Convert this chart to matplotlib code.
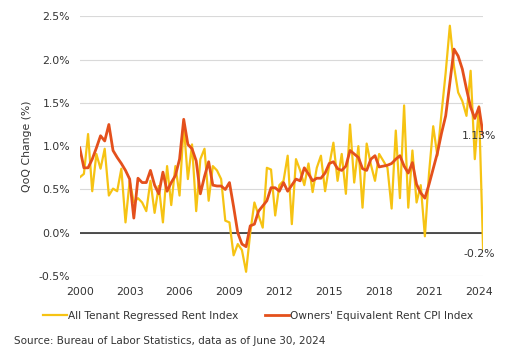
import numpy as np
import pandas as pd
import matplotlib
matplotlib.use("Agg")
import matplotlib.pyplot as plt

# ── Data (QoQ % change) ─────────────────────────────────────────────────────
quarters = pd.period_range("2000Q1", "2024Q2", freq="Q")

tenant_rent = [
    0.64, 0.68, 1.14, 0.48,   0.91, 0.74, 0.97, 0.43,   0.51, 0.48, 0.74, 0.12,
    0.60, 0.35, 0.40, 0.35,   0.25, 0.60, 0.23, 0.54,   0.12, 0.77, 0.32, 0.77,
    0.43, 1.25, 0.62, 1.02,   0.25, 0.85, 0.97, 0.37,   0.77, 0.72, 0.62, 0.14,
    0.12, -0.26, -0.13, -0.20, -0.45, 0.00, 0.35, 0.20,  0.06, 0.75, 0.73, 0.20,
    0.55, 0.60, 0.89, 0.10,   0.85, 0.72, 0.55, 0.80,   0.47, 0.75, 0.89, 0.48,
    0.78, 1.04, 0.60, 0.91,   0.45, 1.25, 0.58, 1.00,   0.29, 1.03, 0.79, 0.60,
    0.91, 0.83, 0.75, 0.28,   1.18, 0.40, 1.47, 0.29,   0.95, 0.35, 0.55, -0.04,
    0.69, 1.23, 0.89, 1.38,   1.85, 2.39, 1.92, 1.62,   1.52, 1.35, 1.87, 0.85,
    1.46, -0.20,
]

oer_cpi = [
    0.98, 0.75, 0.75, 0.85,   0.98, 1.12, 1.06, 1.25,   0.95, 0.87, 0.80, 0.72,
    0.62, 0.17, 0.63, 0.58,   0.58, 0.72, 0.55, 0.45,   0.70, 0.48, 0.58, 0.66,
    0.85, 1.31, 1.02, 0.97,   0.83, 0.45, 0.65, 0.82,   0.55, 0.54, 0.54, 0.50,
    0.58, 0.30, 0.00, -0.13,  -0.16, 0.08, 0.10, 0.25,   0.31, 0.37, 0.52, 0.52,
    0.48, 0.58, 0.48, 0.55,   0.62, 0.60, 0.75, 0.68,   0.60, 0.63, 0.63, 0.69,
    0.80, 0.82, 0.74, 0.72,   0.77, 0.95, 0.91, 0.87,   0.74, 0.72, 0.85, 0.89,
    0.76, 0.77, 0.78, 0.80,   0.85, 0.89, 0.77, 0.69,   0.81, 0.56, 0.46, 0.40,
    0.56, 0.74, 0.92, 1.15,   1.35, 1.73, 2.12, 2.04,   1.89, 1.66, 1.45, 1.32,
    1.45, 1.13,
]

year_ticks = [2000, 2003, 2006, 2009, 2012, 2015, 2018, 2021, 2024]
y_ticks = [-0.5, 0.0, 0.5, 1.0, 1.5, 2.0, 2.5]

YELLOW = "#F6C313"
ORANGE = "#E4501C"
TEXT = "#333333"

plt.rcParams["font.family"] = ["DejaVu Sans"]

# decimal year for each quarter
t = np.array([p.year + (p.quarter - 1) / 4 for p in quarters])

fig = plt.figure(figsize=(5.08, 3.6), dpi=100)
ax = fig.add_axes([0.157, 0.233, 0.794, 0.722])

ax.plot(t, tenant_rent, color=YELLOW, lw=1.6, zorder=3,
        label="All Tenant Regressed Rent Index")
ax.plot(t, oer_cpi, color=ORANGE, lw=2.0, zorder=4,
        label="Owners' Equivalent Rent CPI Index")

ax.axhline(0, color="#222222", lw=1.1, zorder=2)
ax.set_ylim(-0.5, 2.5)
ax.set_xlim(2000, 2024.25)
ax.set_yticks(y_ticks)
ax.set_yticklabels([f"{v:.1f}%" for v in y_ticks])
ax.set_xticks(year_ticks)
ax.set_xticklabels([str(y) for y in year_ticks])
ax.grid(axis="y", color="#d9d9d9", lw=0.8, zorder=0)
ax.set_axisbelow(True)
for s in ax.spines.values():
    s.set_visible(False)
ax.tick_params(length=0, labelsize=7.8, colors=TEXT, pad=7)
ax.tick_params(axis="x", pad=8)
ax.set_ylabel("QoQ Change (%)", fontsize=7.8, color=TEXT, labelpad=5)

# end-of-series labels
ax.annotate(f"{oer_cpi[-1]:.2f}%", (t[-1], oer_cpi[-1]), xytext=(-15, -1),
            textcoords="offset points", fontsize=7.8, color=TEXT,
            va="center", ha="left", zorder=5, annotation_clip=False)
ax.annotate(f"{tenant_rent[-1]:.1f}%", (t[-1], tenant_rent[-1]), xytext=(-14, -3),
            textcoords="offset points", fontsize=7.8, color=TEXT,
            va="center", ha="left", zorder=5, annotation_clip=False)

fig.legend(loc="center", bbox_to_anchor=(0.508, 0.122), ncol=2, frameon=False,
           fontsize=7.6, handlelength=2.3, handletextpad=0.1, columnspacing=2.5,
           labelcolor=TEXT)

fig.text(0.027, 0.052, "Source: Bureau of Labor Statistics, data as of June 30, 2024",
         fontsize=7.5, color=TEXT, va="center")

fig.savefig("out.png", dpi=100)
